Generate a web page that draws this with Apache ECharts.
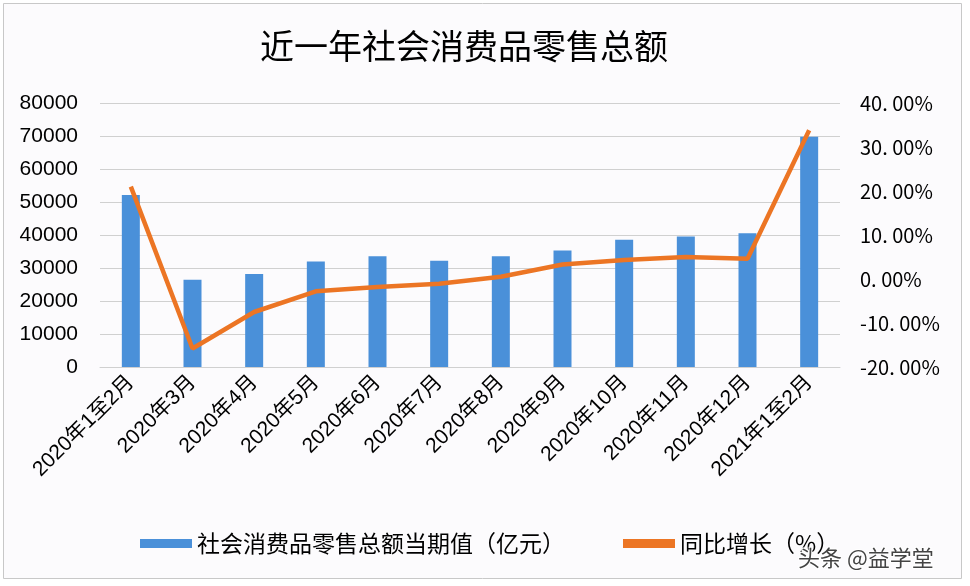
<!DOCTYPE html>
<html>
<head>
<meta charset="utf-8">
<script src="https://cdn.jsdelivr.net/npm/echarts@6/dist/echarts.min.js"></script>
<style>
html,body{margin:0;padding:0;background:#ffffff;}
#chart{width:970px;height:586px;}
</style>
</head>
<body>
<div id="chart"></div>
<script>
var categories = ['2020年1至2月','2020年3月','2020年4月','2020年5月','2020年6月','2020年7月','2020年8月','2020年9月','2020年10月','2020年11月','2020年12月','2021年1至2月'];
var retailValues = [52130, 26450, 28178, 31973, 33526, 32203, 33571, 35295, 38576, 39514, 40566, 69737];
var yoyGrowth = [21.0, -15.8, -7.5, -2.8, -1.8, -1.1, 0.5, 3.3, 4.3, 5.0, 4.6, 33.8];
var leftTicks = [0, 10000, 20000, 30000, 40000, 50000, 60000, 70000, 80000];
var rightTicks = ['-20. 00%','-10. 00%','0. 00%','10. 00%','20. 00%','30. 00%','40. 00%'];
var seriesNames = ['社会消费品零售总额当期值（亿元）', '同比增长（%）'];
var titleText = '近一年社会消费品零售总额';
var watermarkText = '头条 @益学堂';

var chart = echarts.init(document.getElementById('chart'));
var cjk = '"Liberation Sans", "Noto Sans CJK SC", sans-serif';
var option = {
  backgroundColor: '#ffffff',
  animation: false,
  title: {
    text: titleText,
    left: 255,
    top: 24,
    textStyle: {fontSize: 34, fontWeight: 'normal', color: '#000', fontFamily: '"Noto Sans CJK SC", sans-serif'}
  },
  graphic: [
    {type: 'rect', left: 3, top: 3, z: -10, shape: {width: 958, height: 575},
     style: {fill: '#fcfbfd', stroke: '#c8c8c8', lineWidth: 1}},
    {type: 'text', left: 797, top: 546, z: 100,
     style: {text: watermarkText, fontSize: 22, fill: '#444', stroke: '#fff', lineWidth: 2,
             fontFamily: '"Noto Sans CJK SC", sans-serif'}}
  ],
  legend: {
    top: 527,
    left: 135,
    itemGap: 58,
    itemWidth: 52,
    itemHeight: 9,
    textStyle: {fontSize: 23, color: '#000', fontFamily: '"Noto Sans CJK SC", sans-serif'},
    data: [
      {name: seriesNames[0], icon: 'rect'},
      {name: seriesNames[1], icon: 'rect', itemStyle: {color: '#ec7524'}}
    ]
  },
  grid: {left: 100, right: 130, top: 103, bottom: 219},
  xAxis: {
    type: 'category',
    data: categories,
    axisTick: {show: false},
    axisLine: {lineStyle: {color: '#d0d0d0'}},
    axisLabel: {rotate: 45, fontSize: 21, color: '#000', margin: 12, interval: 0, fontFamily: cjk}
  },
  yAxis: [
    {
      type: 'value', min: leftTicks[0], max: leftTicks[leftTicks.length - 1], interval: 10000,
      axisLine: {show: false}, axisTick: {show: false},
      splitLine: {lineStyle: {color: '#d0d0d0'}},
      axisLabel: {fontSize: 21, color: '#000', margin: 22, fontFamily: cjk,
        formatter: function (v) { return String(v); }}
    },
    {
      type: 'value', min: -20, max: 40, interval: 10,
      axisLine: {show: false}, axisTick: {show: false},
      splitLine: {show: false},
      axisLabel: {fontSize: 20, color: '#000', margin: 20, fontFamily: '"Noto Sans CJK SC", sans-serif',
        formatter: function (v) { return rightTicks[Math.round((v + 20) / 10)]; }}
    }
  ],
  series: [
    {
      name: seriesNames[0], type: 'bar', data: retailValues, yAxisIndex: 0,
      barWidth: 18, itemStyle: {color: '#4a90d9'}
    },
    {
      name: seriesNames[1], type: 'line', data: yoyGrowth, yAxisIndex: 1,
      symbol: 'none', lineStyle: {color: '#ec7524', width: 4.5}, itemStyle: {color: '#ec7524'}
    }
  ]
};
chart.setOption(option);
</script>
</body>
</html>
